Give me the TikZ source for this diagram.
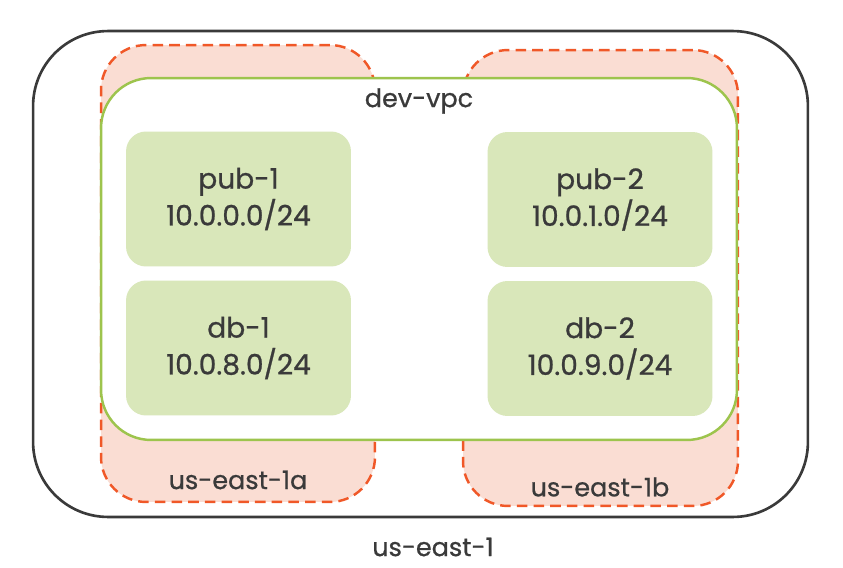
\documentclass[tikz,border=0pt]{standalone}
\usepackage{fontspec}
\setmainfont{Poppins}[FakeBold=0.8]
\usetikzlibrary{positioning}
\definecolor{ink}{RGB}{58,58,58}
\definecolor{azline}{RGB}{240,88,40}
\definecolor{azfill}{RGB}{250,221,211}
\definecolor{vpcline}{RGB}{157,196,77}
\definecolor{subfill}{RGB}{217,231,186}

\begin{document}
\begin{tikzpicture}[x=0.02cm, y=-0.02cm,
    every node/.style={font=\fontsize{14.5}{18}\selectfont, text=ink},
    region/.style={draw=ink, line width=1.5pt, fill=white, rounded corners=1.5cm, inner sep=0pt},
    zone/.style={draw=azline, fill=azfill, line width=1.4pt, dash pattern=on 6pt off 3.5pt, rounded corners=0.9cm, inner sep=0pt},
    vpc/.style={draw=vpcline, fill=white, line width=1.4pt, rounded corners=1cm, inner sep=0pt},
    subnet/.style={fill=subfill, rounded corners=0.4cm, minimum width=4.5cm, minimum height=2.7cm, align=center, inner sep=0pt, font=\fontsize{16}{21}\selectfont}]
    \useasboundingbox (0,0) rectangle (843,568);

    \node[region, minimum width=15.5cm, minimum height=9.72cm] (region) at (420.5,274) {};
    \node[zone, minimum width=5.48cm, minimum height=9.14cm] (aza) at (238,273.5) {};
    \node[zone, minimum width=5.5cm, minimum height=9.12cm] (azb) at (600.5,278) {};
    \node[vpc, minimum width=12.72cm, minimum height=7.24cm] (vpc) at (419,259) {};

    \node[subnet] (pub1) at (238.5,199) {pub-1\\10.0.0.0/24};
    \node[subnet] (db1) at (238.5,348) {db-1\\10.0.8.0/24};
    \node[subnet] (pub2) at (600,199.5) {pub-2\\10.0.1.0/24};
    \node[subnet] (db2) at (600,348.5) {db-2\\10.0.9.0/24};

    \node (vpclabel) at (419,101) {dev-vpc};
    \node (azalabel) at (238,480) {us-east-1a};
    \node (azblabel) at (600,487) {us-east-1b};
    \node (regionlabel) at (433,547) {us-east-1};
\end{tikzpicture}
\end{document}
